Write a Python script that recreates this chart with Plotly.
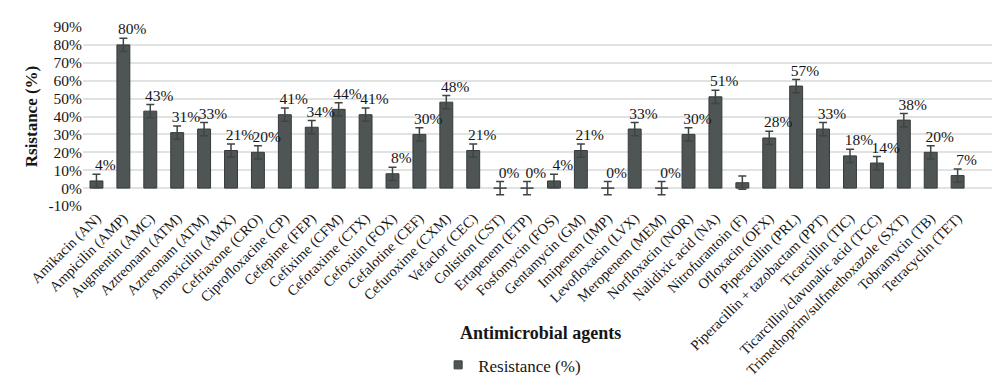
import plotly.graph_objects as go

categories = [
    "Amikacin (AN)", "Ampicilin (AMP)", "Augmentin (AMC)", "Aztreonam (ATM)", "Aztreonam (ATM)",
    "Amoxicilin (AMX)", "Cefriaxone (CRO)", "Ciprofloxacine (CP)", "Cefepime (FEP)", "Cefixime (CFM)",
    "Cefotaxime (CTX)", "Cefoxitin (FOX)", "Cefalotine (CEF)", "Cefuroxime (CXM)", "Vefaclor (CEC)",
    "Colistion (CST)", "Ertapenem (ETP)", "Fosfomycin (FOS)", "Gentamycin (GM)", "Imipenem (IMP)",
    "Levofloxacin (LVX)", "Meropenem (MEM)", "Norfloxacin (NOR)", "Nalidixic acid (NA)",
    "Nitrofurantoin (F)", "Ofloxacin (OFX)", "Piperacillin (PRL)", "Piperacillin + tazobactam (PPT)",
    "Ticarcillin (TIC)", "Ticarcillin/clavunalic acid (TCC)", "Trimethoprim/sulfmethoxazole (SXT)",
    "Tobramycin (TB)", "Tetracyclin (TET)",
]
resistance = [4, 80, 43, 31, 33, 21, 20, 41, 34, 44, 41, 8, 30, 48, 21, 0, 0, 4, 21, 0,
              33, 0, 30, 51, 3, 28, 57, 33, 18, 14, 38, 20, 7]
labels = ["4%", "80%", "43%", "31%", "33%", "21%", "20%", "41%", "34%", "44%", "41%", "8%",
          "30%", "48%", "21%", "0%", "0%", "4%", "21%", "0%", "33%", "0%", "30%", "51%", "",
          "28%", "57%", "33%", "18%", "14%", "38%", "20%", "7%"]
error = [3.7] * len(categories)
y_ticks = [-10, 0, 10, 20, 30, 40, 50, 60, 70, 80, 90]
y_ticktext = ["-10%", "0%", "10%", "20%", "30%", "40%", "50%", "60%", "70%", "80%", "90%"]

FONT = "Liberation Serif"
TXT = "#161616"
xpos = list(range(len(categories)))

fig = go.Figure()
fig.add_trace(go.Bar(
    x=xpos, y=resistance, name="Resistance (%)",
    marker=dict(color="#4f5555", line=dict(color="#363a3a", width=1)),
    width=0.48, showlegend=False,
    error_y=dict(type="data", array=error, visible=True, color="#3f4444",
                 thickness=1.5, width=4),
))
# legend swatch
fig.add_trace(go.Scatter(
    x=[None], y=[None], mode="markers", name="Resistance (%)",
    marker=dict(symbol="square", size=8, color="#4f5555", line=dict(color="#363a3a", width=1)),
    showlegend=True,
))
fig.add_trace(go.Scatter(
    x=[p + 0.33 for p in xpos],
    y=[v + e for v, e in zip(resistance, error)],
    mode="text", text=labels, textposition="top center",
    textfont=dict(family=FONT, size=15.5, color=TXT),
    showlegend=False, hoverinfo="skip", cliponaxis=False,
))

fig.update_layout(
    width=1000, height=386,
    margin=dict(l=75, r=10, t=19, b=184),
    paper_bgcolor="white", plot_bgcolor="white",
    font=dict(family=FONT, size=15, color=TXT),
    bargap=0.5,
    showlegend=True,
    legend=dict(orientation="h", x=0.469, xanchor="center", y=-0.89, yanchor="middle",
                font=dict(family=FONT, size=17, color=TXT), itemwidth=30),
    xaxis=dict(
        range=[-0.5, 33.5], tickmode="array", tickvals=xpos, ticktext=categories,
        tickangle=-45, showgrid=False, zeroline=False, showline=False, ticks="",
        tickfont=dict(family=FONT, size=14.5, color=TXT), automargin=False,
    ),
    yaxis=dict(
        range=[-10, 90], tickmode="array", tickvals=y_ticks, ticktext=y_ticktext,
        showgrid=True, gridcolor="#e1e3e3", gridwidth=1.5, zeroline=True,
        zerolinecolor="#e1e3e3", zerolinewidth=1.5, showline=False, ticks="",
        tickfont=dict(family=FONT, size=15.5, color=TXT), automargin=False,
        title=dict(text="<b>Rsistance (%)</b>", font=dict(family=FONT, size=17, color=TXT),
                   standoff=6),
    ),
    annotations=[dict(
        text="<b>Antimicrobial agents</b>", xref="paper", yref="paper",
        x=0.5, y=-0.71, xanchor="center", yanchor="middle", showarrow=False,
        font=dict(family=FONT, size=18, color=TXT),
    )],
    shapes=[dict(type="line", xref="paper", yref="paper", x0=1.008, x1=1.008, y0=-1.1, y1=1.1,
                 line=dict(color="#d8d8d8", width=1.5))],
)

fig.write_html("out.html")
